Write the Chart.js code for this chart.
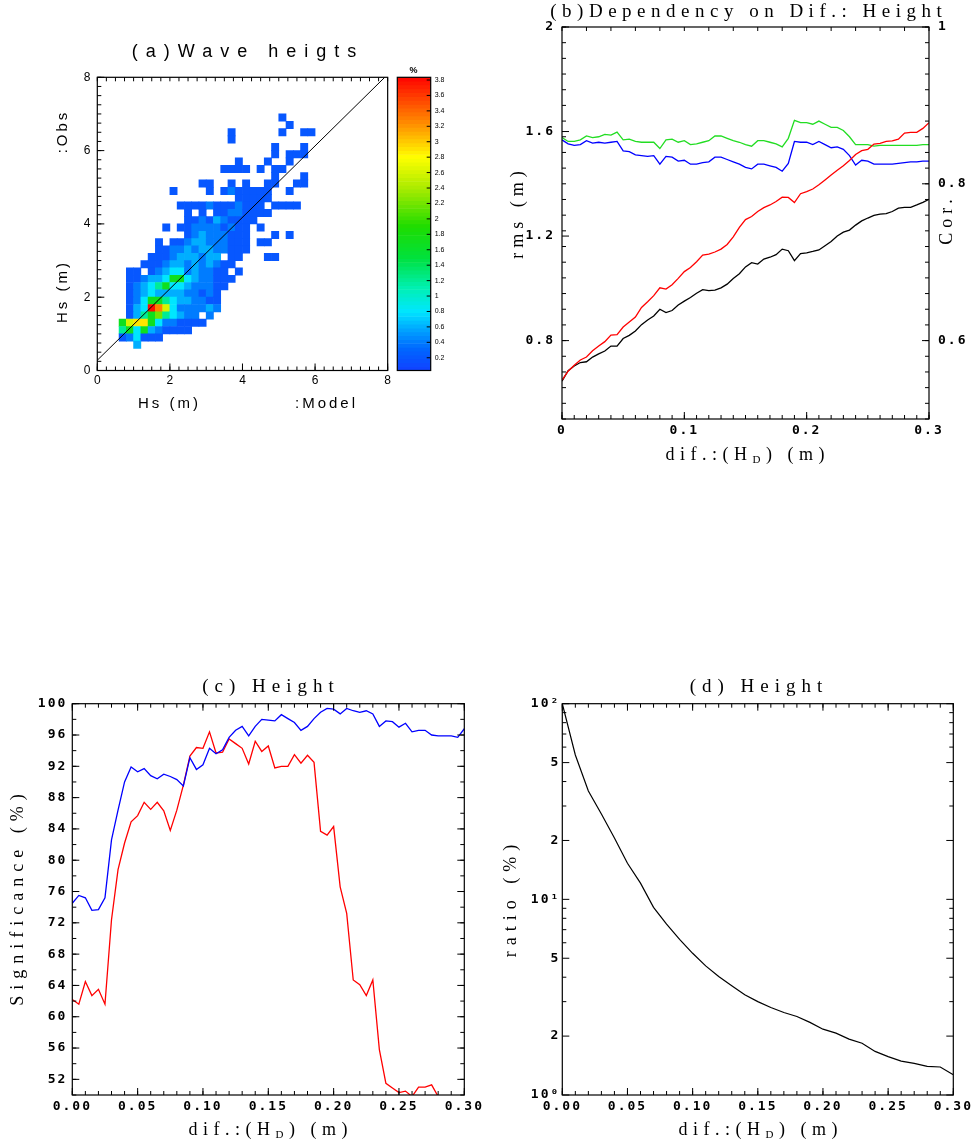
<!DOCTYPE html>
<html>
<head>
<meta charset="utf-8">
<script src="https://cdn.jsdelivr.net/npm/chart.js@4.4.1/dist/chart.umd.min.js"></script>
<style>
  body { margin: 0; background: #fff; width: 977px; height: 1147px; position: relative; overflow: hidden; }
  canvas { position: absolute; }
</style>
</head>
<body>
<canvas id="pa" width="394" height="430" style="left:0;top:0"></canvas>
<canvas id="pcb" width="80" height="350" style="left:394px;top:40px"></canvas>
<canvas id="pb" width="497" height="480" style="left:480px;top:0"></canvas>
<canvas id="pc" width="488" height="487" style="left:0;top:660px"></canvas>
<canvas id="pd" width="489" height="487" style="left:488px;top:660px"></canvas>
<script>
// ---- (a) wave heights: percentage per 0.2 m cell, one string per row, top row first
const heatBin = 0.2;
const heatTopRow = 34;
const heatCodes = '123456789ab';
const heatLevels = [0.2, 0.4, 0.6, 0.8, 1.2, 1.7, 2.2, 2.6, 2.9, 3.3, 3.8];
const heatRows = [
    '.........................1....',
    '..........................1...',
    '..................1......1..11',
    '..................1...........',
    '........................1...1.',
    '........................1.111.',
    '...................1...1..1...',
    '.................1111.1.11....',
    '........................1...1.',
    '..............11..1.1..11..11.',
    '..........1....1.1211111..1...',
    '...................11111......',
    '...........111121112111.1111..',
    '............1.1.11221111......',
    '............1121321111........',
    '.........1.1122221211.1.......',
    '............123222111...1.1...',
    '........1.11233222111.11......',
    '........1122323322111.........',
    '.......1112333233.11...11.....',
    '......1112332323211...........',
    '....11.12344232211.1..........',
    '....112334664322111...........',
    '....12345644322211............',
    '....1234333322121.............',
    '....1246654332211.............',
    '....134ba84222232.............',
    '....1356754322.2..............',
    '...689964221111...............',
    '...5646321111.................',
    '...124111.....................',
    '.....3........................'
];
const fitX = [0, 7.92];
const fitY = [0.28, 8];
const aTicks = [0, 2, 4, 6, 8];
const cbTicks = [0.2, 0.4, 0.6, 0.8, 1, 1.2, 1.4, 1.6, 1.8, 2, 2.2, 2.4, 2.6, 2.8, 3, 3.2, 3.4, 3.6, 3.8];

// ---- (b) dependency on difference
const difX = [0, 0.005, 0.01, 0.015, 0.02, 0.025, 0.03, 0.035, 0.04, 0.045, 0.05, 0.055, 0.06, 0.065, 0.07, 0.075,
    0.08, 0.085, 0.09, 0.095, 0.1, 0.105, 0.11, 0.115, 0.12, 0.125, 0.13, 0.135, 0.14, 0.145, 0.15, 0.155, 0.16,
    0.165, 0.17, 0.175, 0.18, 0.185, 0.19, 0.195, 0.2, 0.205, 0.21, 0.215, 0.22, 0.225, 0.23, 0.235, 0.24, 0.245,
    0.25, 0.255, 0.26, 0.265, 0.27, 0.275, 0.28, 0.285, 0.29, 0.295, 0.3];
const rmsRed = [0.649, 0.683, 0.706, 0.726, 0.737, 0.761, 0.779, 0.796, 0.821, 0.823, 0.852, 0.871, 0.890, 0.927,
    0.949, 0.972, 1.002, 0.997, 1.014, 1.038, 1.064, 1.080, 1.102, 1.127, 1.131, 1.139, 1.150, 1.168, 1.197, 1.233,
    1.263, 1.275, 1.294, 1.309, 1.319, 1.332, 1.349, 1.348, 1.328, 1.362, 1.370, 1.380, 1.396, 1.415, 1.434, 1.452,
    1.469, 1.489, 1.512, 1.527, 1.532, 1.552, 1.555, 1.562, 1.564, 1.571, 1.594, 1.597, 1.597, 1.612, 1.634];
const rmsBlack = [0.645, 0.685, 0.703, 0.716, 0.719, 0.737, 0.749, 0.760, 0.779, 0.779, 0.808, 0.820, 0.837, 0.861,
    0.879, 0.894, 0.920, 0.907, 0.915, 0.936, 0.951, 0.965, 0.981, 0.995, 0.991, 0.993, 1.002, 1.016, 1.038, 1.056,
    1.082, 1.098, 1.093, 1.112, 1.119, 1.129, 1.150, 1.144, 1.106, 1.133, 1.136, 1.141, 1.147, 1.163, 1.179, 1.200,
    1.215, 1.223, 1.242, 1.258, 1.269, 1.279, 1.284, 1.286, 1.294, 1.307, 1.310, 1.310, 1.319, 1.329, 1.341];
const corGreen = [0.859, 0.854, 0.854, 0.856, 0.861, 0.859, 0.860, 0.863, 0.862, 0.866, 0.856, 0.857, 0.854, 0.853,
    0.853, 0.853, 0.845, 0.856, 0.857, 0.853, 0.855, 0.850, 0.851, 0.853, 0.855, 0.861, 0.861, 0.858, 0.855, 0.853,
    0.850, 0.848, 0.855, 0.855, 0.853, 0.851, 0.847, 0.858, 0.881, 0.878, 0.878, 0.876, 0.880, 0.876, 0.872, 0.872,
    0.868, 0.860, 0.850, 0.850, 0.850, 0.848, 0.849, 0.849, 0.849, 0.849, 0.849, 0.849, 0.849, 0.850, 0.850];
const corBlue = [0.856, 0.851, 0.849, 0.850, 0.855, 0.852, 0.853, 0.852, 0.853, 0.854, 0.842, 0.841, 0.837, 0.836,
    0.835, 0.836, 0.825, 0.835, 0.834, 0.829, 0.830, 0.825, 0.825, 0.827, 0.828, 0.834, 0.834, 0.831, 0.828, 0.825,
    0.821, 0.819, 0.825, 0.825, 0.823, 0.821, 0.816, 0.826, 0.854, 0.853, 0.853, 0.850, 0.854, 0.850, 0.846, 0.847,
    0.844, 0.836, 0.824, 0.830, 0.829, 0.825, 0.825, 0.825, 0.825, 0.826, 0.827, 0.828, 0.828, 0.829, 0.829];
const bXTicks = [0, 0.1, 0.2, 0.3];
const bYTicks = [0.8, 1.2, 1.6, 2];
const bY2Ticks = [0.6, 0.8, 1];

// ---- (c) significance
const sigBlue = [74.5, 75.5, 75.2, 73.6, 73.7, 75.2, 82.6, 86.4, 90.0, 91.9, 91.3, 91.7, 90.8, 90.4, 91.0, 90.7,
    90.3, 89.5, 93.1, 91.6, 92.2, 94.3, 93.6, 94.1, 95.7, 96.6, 97.1, 95.9, 97.1, 98.0, 97.9, 97.8, 98.6, 98.1,
    97.6, 96.6, 97.1, 98.1, 98.9, 99.4, 99.3, 98.7, 99.4, 99.1, 98.9, 99.1, 98.7, 97.1, 97.8, 97.7, 97.0, 97.5,
    96.4, 96.6, 96.6, 96.0, 95.9, 95.9, 95.9, 95.7, 96.8];
const sigRed = [62.2, 61.6, 64.5, 62.7, 63.5, 61.6, 72.4, 78.8, 82.2, 84.9, 85.7, 87.4, 86.5, 87.4, 86.3, 83.8,
    86.4, 89.6, 93.3, 94.4, 94.3, 96.4, 93.7, 93.8, 95.5, 94.9, 94.3, 92.3, 95.2, 93.9, 94.6, 91.8, 92.0, 92.0,
    93.5, 92.4, 93.4, 92.5, 83.7, 83.2, 84.3, 76.6, 73.2, 64.7, 64.1, 62.7, 64.7, 55.8, 51.5, 50.9, 50.3, 50.5,
    49.8, 51.0, 51.0, 51.3, 49.8, 49.0, 48.5, 48.5, 48.0];
const cXTicks = [0, 0.05, 0.1, 0.15, 0.2, 0.25, 0.3];
const cYTicks = [52, 56, 60, 64, 68, 72, 76, 80, 84, 88, 92, 96, 100];

// ---- (d) ratio
const ratioX = [0, 0.01, 0.02, 0.03, 0.04, 0.05, 0.06, 0.07, 0.08, 0.09, 0.1, 0.11, 0.12, 0.13, 0.14, 0.15, 0.16,
    0.17, 0.18, 0.19, 0.2, 0.21, 0.22, 0.23, 0.24, 0.25, 0.26, 0.27, 0.28, 0.29, 0.3];
const ratioVal = [100, 54.7, 35.8, 27.3, 20.6, 15.3, 12.1, 9.1, 7.48, 6.25, 5.30, 4.57, 4.03, 3.62, 3.25, 3.00, 2.80,
    2.64, 2.52, 2.35, 2.17, 2.07, 1.93, 1.84, 1.67, 1.57, 1.49, 1.45, 1.40, 1.39, 1.27];
const dYTicks = [1, 2, 5, 10, 20, 50, 100];
const dYLabels = { 1: '10\u2070', 2: '2', 5: '5', 10: '10\u00B9', 20: '2', 50: '5', 100: '10\u00B2' };

// ---- styles
const SANS = "'Liberation Sans', sans-serif";
const SERIF = "'Liberation Serif', serif";
const MONO = "'DejaVu Sans Mono', monospace";
const colorStops = [[0, [20, 60, 255]], [0.3, [0, 100, 255]], [0.55, [0, 160, 255]], [0.8, [0, 230, 255]],
    [1.1, [0, 240, 180]], [1.5, [0, 225, 60]], [1.9, [30, 220, 0]], [2.4, [170, 235, 0]], [2.8, [255, 255, 0]],
    [3.2, [255, 150, 0]], [3.85, [255, 0, 0]]];

function jet(v) {
    for (let i = 1; i < colorStops.length; i++) {
        const [v1, c1] = colorStops[i];
        const [v0, c0] = colorStops[i - 1];
        if (v <= v1 || i === colorStops.length - 1) {
            const t = Math.max(0, Math.min(1, (v - v0) / (v1 - v0)));
            const c = c0.map((a, k) => Math.round(a + (c1[k] - a) * t));
            return `rgb(${c[0]},${c[1]},${c[2]})`;
        }
    }
}

function pts(xs, ys) {
    return xs.map((x, i) => ({ x: x, y: ys[i] }));
}

function steps(a, b, d) {
    const out = [];
    for (let k = 0; a + k * d <= b + 1e-9; k++) out.push(+(a + k * d).toFixed(6));
    return out;
}

function axis(o) {
    return {
        type: o.type || 'linear',
        position: o.pos,
        display: o.display !== false,
        min: o.min,
        max: o.max,
        offset: false,
        grid: { display: false, drawTicks: false },
        border: { display: false },
        afterBuildTicks: s => { if (o.ticks) s.ticks = o.ticks.map(v => ({ value: v })); },
        afterFit: s => {
            if (o.w !== undefined) s.width = o.w;
            if (o.h !== undefined) s.height = o.h;
        },
        ticks: {
            autoSkip: false, maxRotation: 0, padding: o.pad || 0, color: '#000',
            font: o.font, callback: o.fmt || (v => String(v))
        }
    };
}

function drawText(ctx, t) {
    ctx.save();
    ctx.translate(t.x, t.y);
    if (t.rot) ctx.rotate(t.rot);
    ctx.fillStyle = '#000';
    ctx.textBaseline = 'middle';
    ctx.textAlign = 'left';
    ctx.letterSpacing = (t.sp || 0) + 'px';
    const parts = t.parts || [{ s: t.text }];
    const fontOf = p => (t.bold ? 'bold ' : '') + (p.sub ? Math.round(t.size * 0.62) : t.size) + 'px ' + t.family;
    let w = 0;
    parts.forEach(p => { ctx.font = fontOf(p); w += ctx.measureText(p.s).width; });
    let x = -(w - (t.sp || 0)) / 2;
    parts.forEach(p => {
        ctx.font = fontOf(p);
        ctx.fillText(p.s, x, p.sub ? t.size * 0.3 : 0);
        x += ctx.measureText(p.s).width;
    });
    ctx.restore();
}

// frame, inward tick marks and free texts
function deco(cfg) {
    return {
        id: 'deco',
        beforeDraw(chart) {
            chart.ctx.letterSpacing = (cfg.tickSpacing || 0) + 'px';
        },
        afterDraw(chart) {
            const ctx = chart.ctx;
            const a = chart.chartArea;
            ctx.save();
            ctx.letterSpacing = '0px';
            ctx.strokeStyle = '#000';
            ctx.lineWidth = 1.2;
            ctx.strokeRect(a.left, a.top, a.right - a.left, a.bottom - a.top);
            ctx.lineWidth = 1;
            (cfg.marks || []).forEach(m => {
                const s = chart.scales[m.axis];
                m.values.forEach(v => {
                    const p = s.getPixelForValue(v);
                    ctx.beginPath();
                    if (m.side === 'bottom') { ctx.moveTo(p, a.bottom); ctx.lineTo(p, a.bottom - m.len); }
                    else if (m.side === 'top') { ctx.moveTo(p, a.top); ctx.lineTo(p, a.top + m.len); }
                    else if (m.side === 'left') { ctx.moveTo(a.left, p); ctx.lineTo(a.left + m.len, p); }
                    else { ctx.moveTo(a.right, p); ctx.lineTo(a.right - m.len, p); }
                    ctx.stroke();
                });
            });
            (cfg.texts || []).forEach(t => drawText(ctx, t));
            ctx.restore();
        }
    };
}

const UP = -Math.PI / 2;
const baseOpts = {
    responsive: false,
    animation: false,
    events: [],
    plugins: { legend: { display: false }, tooltip: { enabled: false }, title: { display: false } }
};
const difTitle = [{ s: 'dif.:(H' }, { s: 'D', sub: true }, { s: ') (m)' }];

// ---------- (a) heat map
const heatCells = [];
heatRows.forEach((row, r) => {
    const j = heatTopRow - r;
    [...row].forEach((ch, i) => {
        const k = heatCodes.indexOf(ch);
        if (k < 0) return;
        heatCells.push({ x: (i + 0.5) * heatBin, y: [j * heatBin, (j + 1) * heatBin], v: heatLevels[k] });
    });
});

const aMinor = steps(0, 8, 0.25);
new Chart(document.getElementById('pa'), {
    type: 'bar',
    data: {
        datasets: [
            { type: 'line', data: pts(fitX, fitY), borderColor: '#000', borderWidth: 1, pointRadius: 0, order: 0 },
            {
                data: heatCells, backgroundColor: c => jet(c.raw ? c.raw.v : 0), borderWidth: 0,
                categoryPercentage: 1, barPercentage: 1, grouped: false, order: 1
            }
        ]
    },
    options: Object.assign({}, baseOpts, {
        layout: { padding: { left: 0, right: 2.7, top: 77.3, bottom: 0 } },
        scales: {
            x: axis({ pos: 'bottom', min: 0, max: 8, ticks: aTicks, h: 59.5, pad: 3, font: { family: SANS, size: 12 } }),
            y: axis({ pos: 'left', min: 0, max: 8, ticks: aTicks, w: 97.3, pad: 7, font: { family: SANS, size: 12 } })
        }
    }),
    plugins: [deco({
        marks: [
            { axis: 'x', side: 'bottom', values: aMinor, len: 4 },
            { axis: 'x', side: 'bottom', values: aTicks, len: 7 },
            { axis: 'x', side: 'top', values: aMinor, len: 4 },
            { axis: 'y', side: 'left', values: aMinor, len: 4 },
            { axis: 'y', side: 'left', values: aTicks, len: 7 }
        ],
        texts: [
            { text: '(a)Wave heigts', x: 244, y: 52, size: 18, family: SANS, sp: 8 },
            { text: ':Obs', x: 63, y: 133, size: 15, family: SANS, sp: 3, rot: UP },
            { text: 'Hs (m)', x: 63, y: 293, size: 15, family: SANS, sp: 3, rot: UP },
            { text: 'Hs (m)', x: 168, y: 404, size: 15, family: SANS, sp: 3 },
            { text: ':Model', x: 325, y: 404, size: 15, family: SANS, sp: 3 }
        ]
    })]
});

// ---------- colour bar
const cbBands = [];
for (let v = 0.035; v < 3.83; v += 0.05) cbBands.push({ x: '%', y: [v, v + 0.05], v: v + 0.025 });
new Chart(document.getElementById('pcb'), {
    type: 'bar',
    data: {
        labels: ['%'],
        datasets: [{
            data: cbBands, backgroundColor: c => jet(c.raw ? c.raw.v : 0), borderWidth: 0,
            categoryPercentage: 1, barPercentage: 1, grouped: false
        }]
    },
    options: Object.assign({}, baseOpts, {
        layout: { padding: { left: 3.3, right: 0, top: 37.3, bottom: 19.5 } },
        scales: {
            x: { type: 'category', display: false },
            y: axis({ pos: 'right', min: 0.035, max: 3.835, ticks: cbTicks, w: 43.3, pad: 4, font: { family: SANS, size: 7 } })
        }
    }),
    plugins: [deco({
        marks: [{ axis: 'y', side: 'right', values: cbTicks, len: 4 }],
        texts: [{ text: '%', x: 19.5, y: 31, size: 9, family: SANS, bold: true }]
    })]
});

// ---------- (b)
const xTickFont = { family: MONO, size: 13, weight: 'bold' };
const yTickFont = { family: MONO, size: 13, weight: 'bold' };
new Chart(document.getElementById('pb'), {
    type: 'line',
    data: {
        datasets: [
            { data: pts(difX, rmsRed), yAxisID: 'y', borderColor: '#ff0000' },
            { data: pts(difX, rmsBlack), yAxisID: 'y', borderColor: '#000000' },
            { data: pts(difX, corGreen), yAxisID: 'y2', borderColor: '#22dd22' },
            { data: pts(difX, corBlue), yAxisID: 'y2', borderColor: '#0000ff' }
        ].map(d => Object.assign(d, { borderWidth: 1.3, pointRadius: 0, tension: 0 }))
    },
    options: Object.assign({}, baseOpts, {
        layout: { padding: { left: 0, right: 0, top: 27, bottom: 0 } },
        scales: {
            x: axis({ pos: 'bottom', min: 0, max: 0.3, ticks: bXTicks, h: 61, pad: 4, font: xTickFont }),
            y: axis({ pos: 'left', min: 0.5, max: 2, ticks: bYTicks, w: 82, pad: 7, font: yTickFont }),
            y2: axis({ pos: 'right', min: 0.5, max: 1, ticks: bY2Ticks, w: 48, pad: 9, font: yTickFont })
        }
    }),
    plugins: [deco({
        tickSpacing: 2,
        marks: [
            { axis: 'x', side: 'bottom', values: steps(0, 0.3, 0.01), len: 4 },
            { axis: 'x', side: 'bottom', values: bXTicks, len: 7 },
            { axis: 'x', side: 'top', values: steps(0, 0.3, 0.02), len: 4 },
            { axis: 'y2', side: 'left', values: steps(0.5, 1, 0.02), len: 4 },
            { axis: 'y', side: 'left', values: bYTicks, len: 7 },
            { axis: 'y2', side: 'right', values: steps(0.5, 1, 0.02), len: 4 },
            { axis: 'y2', side: 'right', values: bY2Ticks, len: 7 }
        ],
        texts: [
            { text: '(b)Dependency on Dif.: Height', x: 266, y: 12, size: 19, family: SERIF, sp: 5.5 },
            { parts: difTitle, x: 265, y: 455, size: 18, family: SERIF, sp: 5.5 },
            { text: 'rms (m)', x: 38, y: 215, size: 18, family: SERIF, sp: 5, rot: UP },
            { text: 'Cor.', x: 467, y: 222, size: 18, family: SERIF, sp: 5, rot: UP }
        ]
    })]
});

// ---------- (c)
new Chart(document.getElementById('pc'), {
    type: 'line',
    data: {
        datasets: [
            { data: pts(difX, sigBlue), borderColor: '#0000ff' },
            { data: pts(difX, sigRed), borderColor: '#ff0000' }
        ].map(d => Object.assign(d, { borderWidth: 1.3, pointRadius: 0, tension: 0 }))
    },
    options: Object.assign({}, baseOpts, {
        layout: { padding: { left: 0, right: 23.7, top: 43.7, bottom: 0 } },
        scales: {
            x: axis({ pos: 'bottom', min: 0, max: 0.3, ticks: cXTicks, h: 52, pad: 4, font: xTickFont, fmt: v => v.toFixed(2) }),
            y: axis({ pos: 'left', min: 50, max: 100, ticks: cYTicks, w: 72.3, pad: 5, font: yTickFont })
        }
    }),
    plugins: [deco({
        tickSpacing: 2,
        marks: [
            { axis: 'x', side: 'bottom', values: steps(0, 0.3, 0.01), len: 4 },
            { axis: 'x', side: 'bottom', values: cXTicks, len: 7 },
            { axis: 'x', side: 'top', values: steps(0, 0.3, 0.01), len: 4 },
            { axis: 'x', side: 'top', values: cXTicks, len: 7 },
            { axis: 'y', side: 'left', values: steps(50, 100, 2), len: 4 },
            { axis: 'y', side: 'left', values: cYTicks, len: 7 },
            { axis: 'y', side: 'right', values: steps(50, 100, 2), len: 4 },
            { axis: 'y', side: 'right', values: cYTicks, len: 7 }
        ],
        texts: [
            { text: '(c) Height', x: 268, y: 27, size: 19, family: SERIF, sp: 6 },
            { parts: difTitle, x: 268, y: 470, size: 18, family: SERIF, sp: 5.5 },
            { text: 'Significance (%)', x: 18, y: 240, size: 18, family: SERIF, sp: 6, rot: UP }
        ]
    })]
});

// ---------- (d)
const dMinor = [3, 4, 6, 7, 8, 9, 30, 40, 60, 70, 80, 90];
new Chart(document.getElementById('pd'), {
    type: 'line',
    data: {
        datasets: [{ data: pts(ratioX, ratioVal), borderColor: '#000000', borderWidth: 1.2, pointRadius: 0, tension: 0 }]
    },
    options: Object.assign({}, baseOpts, {
        layout: { padding: { left: 0, right: 23.7, top: 43.7, bottom: 0 } },
        scales: {
            x: axis({ pos: 'bottom', min: 0, max: 0.3, ticks: cXTicks, h: 52, pad: 4, font: xTickFont, fmt: v => v.toFixed(2) }),
            y: axis({ type: 'logarithmic', pos: 'left', min: 1, max: 100, ticks: dYTicks, w: 74.3, pad: 2, font: yTickFont, fmt: v => dYLabels[v] || '' })
        }
    }),
    plugins: [deco({
        tickSpacing: 2,
        marks: [
            { axis: 'x', side: 'bottom', values: steps(0, 0.3, 0.01), len: 4 },
            { axis: 'x', side: 'bottom', values: cXTicks, len: 7 },
            { axis: 'x', side: 'top', values: steps(0, 0.3, 0.01), len: 4 },
            { axis: 'x', side: 'top', values: cXTicks, len: 7 },
            { axis: 'y', side: 'left', values: dMinor, len: 4 },
            { axis: 'y', side: 'left', values: dYTicks, len: 7 },
            { axis: 'y', side: 'right', values: dMinor, len: 4 },
            { axis: 'y', side: 'right', values: dYTicks, len: 7 }
        ],
        texts: [
            { text: '(d) Height', x: 268, y: 27, size: 19, family: SERIF, sp: 6 },
            { parts: difTitle, x: 270, y: 470, size: 18, family: SERIF, sp: 5.5 },
            { text: 'ratio (%)', x: 23, y: 241, size: 18, family: SERIF, sp: 6, rot: UP }
        ]
    })]
});
</script>
</body>
</html>
